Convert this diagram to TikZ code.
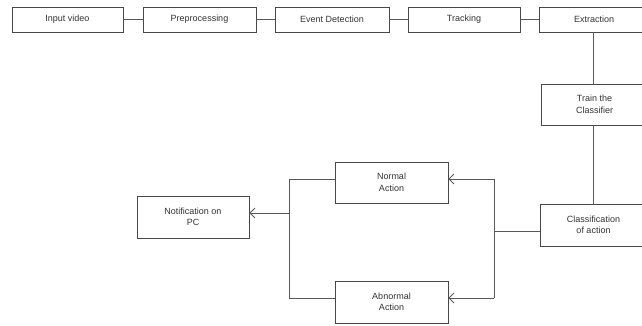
\documentclass[tikz,border=0pt]{standalone}
\usepackage{fontspec}
\setmainfont{Liberation Sans}
\usetikzlibrary{arrows.meta}
\begin{document}
\begin{tikzpicture}[x=1pt,y=-1pt,
  box/.style={draw=black!72, line width=0.8pt, inner sep=0pt, align=center,
    font=\fontsize{9}{11.5}\selectfont, text=black!80},
  conn/.style={draw=black!65, line width=0.8pt},
  arr/.style={conn, -{Straight Barb[length=5pt,width=10pt,line width=0.8pt]}}]
\useasboundingbox (0,0) rectangle (642,325);
\begin{scope}
\clip (0,0) rectangle (642,325);
\node[box, minimum width=111pt, minimum height=25pt] (input) at (67.5,19.5) {Input video};
\node[box, minimum width=113pt, minimum height=25pt] (pre) at (199.5,19.5) {Preprocessing};
\node[box, minimum width=114pt, minimum height=25pt] (event) at (332,19.5) {Event Detection};
\node[box, minimum width=112pt, minimum height=25pt] (track) at (464,19.5) {Tracking};
\node[box, minimum width=110pt, minimum height=25pt] (extr) at (594,19.5) {Extraction};
\node[box, minimum width=107pt, minimum height=41pt] (train) at (594.5,104.5) {Train the\\Classifier};
\node[box, minimum width=107pt, minimum height=42pt] (cls) at (593.5,225) {Classification\\of action};
\node[box, minimum width=113pt, minimum height=41pt] (normal) at (391.5,182.5) {Normal\\Action};
\node[box, minimum width=113pt, minimum height=42pt] (abnormal) at (391.5,302) {Abnormal\\Action};
\node[box, minimum width=112pt, minimum height=42pt] (notif) at (193,217) {Notification on\\PC};
\end{scope}
\draw[conn] (input) -- (pre);
\draw[conn] (pre) -- (event);
\draw[conn] (event) -- (track);
\draw[conn] (track) -- (extr);
\coordinate (ex) at (593,0);
\draw[conn] (extr.south -| ex) -- (train.north -| ex);
\draw[conn] (train.south -| ex) -- (cls.north -| ex);
\coordinate (jr) at (494,231);
\coordinate (yn) at (0,179);
\coordinate (ya) at (0,298);
\coordinate (jl) at (289,213);
\draw[conn] (cls.west |- jr) -- (jr);
\draw[arr] (jr |- yn) -- (normal.east |- yn);
\draw[arr] (jr |- ya) -- (abnormal.east |- ya);
\draw[conn] (jr |- yn) -- (jr |- ya);
\draw[conn] (normal.west |- yn) -- (jl |- yn) -- (jl |- ya) -- (abnormal.west |- ya);
\draw[arr] (jl) -- (notif.east |- jl);
\end{tikzpicture}
\end{document}
